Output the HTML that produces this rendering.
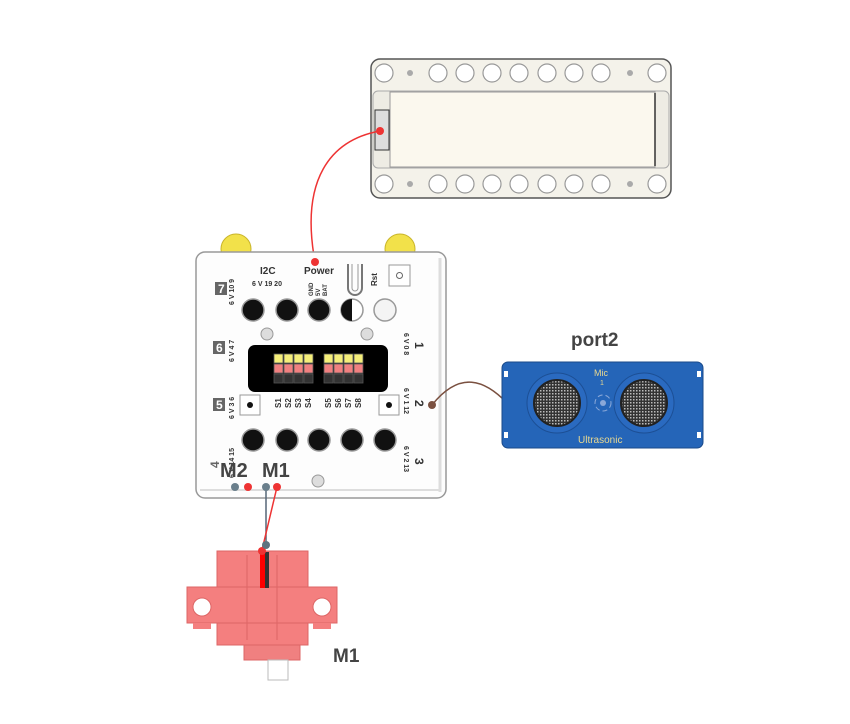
<!DOCTYPE html>
<html><head><meta charset="utf-8"><style>
html,body{margin:0;padding:0;background:#fff;}
svg{display:block;font-family:"Liberation Sans",sans-serif;}
</style></head><body>
<svg width="850" height="724" viewBox="0 0 850 724" xmlns="http://www.w3.org/2000/svg">
<defs>
<pattern id="mesh" width="3" height="3" patternUnits="userSpaceOnUse"><rect width="3" height="3" fill="#333"/><rect width="1.5" height="1.5" fill="#bbb"/></pattern>
</defs>
<!-- top battery module -->
<rect x="371" y="59" width="300" height="139" rx="9" fill="#f4f2ea" stroke="#555" stroke-width="1.5"/>
<rect x="373" y="91" width="296" height="77" rx="5" fill="#eeece4" stroke="#aaa"/>
<rect x="390" y="92" width="265" height="75" fill="#fbf8ee" stroke="#999"/>
<line x1="655" y1="93" x2="655" y2="166" stroke="#333" stroke-width="1.5"/>
<rect x="375" y="110" width="14" height="40" fill="#ddd" stroke="#333"/>
<g fill="#fff" stroke="#999" stroke-width="1.2">
<circle cx="384" cy="73" r="9"/><circle cx="438" cy="73" r="9"/><circle cx="465" cy="73" r="9"/><circle cx="492" cy="73" r="9"/><circle cx="519" cy="73" r="9"/><circle cx="547" cy="73" r="9"/><circle cx="574" cy="73" r="9"/><circle cx="601" cy="73" r="9"/><circle cx="657" cy="73" r="9"/>
<circle cx="384" cy="184" r="9"/><circle cx="438" cy="184" r="9"/><circle cx="465" cy="184" r="9"/><circle cx="492" cy="184" r="9"/><circle cx="519" cy="184" r="9"/><circle cx="547" cy="184" r="9"/><circle cx="574" cy="184" r="9"/><circle cx="601" cy="184" r="9"/><circle cx="657" cy="184" r="9"/>
</g>
<g fill="#aaa"><circle cx="410" cy="73" r="3"/><circle cx="630" cy="73" r="3"/><circle cx="410" cy="184" r="3"/><circle cx="630" cy="184" r="3"/></g>

<!-- red wire top -->
<path d="M380,131 C330,140 300,180 315,262" fill="none" stroke="#e33" stroke-width="1.5"/>
<circle cx="380" cy="131" r="4" fill="#e33"/>

<!-- main board -->
<circle cx="236" cy="249" r="15" fill="#f2e14a" stroke="#c9b52a"/>
<circle cx="400" cy="249" r="15" fill="#f2e14a" stroke="#c9b52a"/>
<rect x="196" y="252" width="250" height="246" rx="9" fill="#fdfdfd" stroke="#999" stroke-width="1.5"/>
<line x1="440" y1="258" x2="440" y2="492" stroke="#ddd" stroke-width="3"/>
<line x1="200" y1="490" x2="440" y2="490" stroke="#ddd" stroke-width="2"/>
<circle cx="315" cy="262" r="4" fill="#e33"/>
<g fill="#333" font-size="10" font-weight="bold">
<text x="260" y="274">I2C</text>
<text x="304" y="274">Power</text>
<text x="252" y="286" font-size="7">6 V 19 20</text>
</g>
<g font-size="6" fill="#333" font-weight="bold">
<text transform="translate(313,296) rotate(-90)">GND</text>
<text transform="translate(320,296) rotate(-90)">5V</text>
<text transform="translate(327,296) rotate(-90)">BAT</text>
<text transform="translate(377,286) rotate(-90)" font-size="8">Rst</text>
</g>
<path d="M348,264 V288 a7,7 0 0 0 14,0 V264" fill="none" stroke="#777" stroke-width="2"/>
<path d="M352,264 V288 a3,3 0 0 0 6,0 V264" fill="none" stroke="#999" stroke-width="1"/>
<rect x="389" y="265" width="21" height="21" fill="#fff" stroke="#999"/>
<circle cx="399.5" cy="275.5" r="3" fill="none" stroke="#666"/>
<!-- number boxes -->
<g font-size="12" font-weight="bold">
<rect x="215" y="282" width="12" height="13" fill="#666"/><text x="218" y="293" fill="#fff">7</text>
<rect x="213" y="341" width="12" height="13" fill="#666"/><text x="216" y="352" fill="#fff">6</text>
<rect x="213" y="398" width="12" height="13" fill="#666"/><text x="216" y="409" fill="#fff">5</text>
<text x="210" y="467" fill="#666" transform="rotate(-90 215 463)">4</text>
<text transform="translate(415,342) rotate(90)" fill="#333">1</text>
<text transform="translate(415,400) rotate(90)" fill="#333">2</text>
<text transform="translate(415,458) rotate(90)" fill="#333">3</text>
</g>
<g font-size="7" fill="#333" font-weight="bold">
<text transform="translate(234,305) rotate(-90)">6 V 10 9</text>
<text transform="translate(234,362) rotate(-90)">6 V 4 7</text>
<text transform="translate(234,419) rotate(-90)">6 V 3 6</text>
<text transform="translate(234,478) rotate(-90)">6 V 14 15</text>
<text transform="translate(404,333) rotate(90)">6 V 0 8</text>
<text transform="translate(404,388) rotate(90)">6 V 1 12</text>
<text transform="translate(404,446) rotate(90)">6 V 2 13</text>
</g>
<!-- holes -->
<g fill="#111" stroke="#999" stroke-width="1.5">
<circle cx="253" cy="310" r="11"/><circle cx="287" cy="310" r="11"/><circle cx="319" cy="310" r="11"/>
<circle cx="253" cy="440" r="11"/><circle cx="287" cy="440" r="11"/><circle cx="319" cy="440" r="11"/><circle cx="352" cy="440" r="11"/><circle cx="385" cy="440" r="11"/>
</g>
<circle cx="352" cy="310" r="11" fill="#fff" stroke="#999" stroke-width="1.5"/>
<path d="M352,299 a11,11 0 0 0 0,22 Z" fill="#111"/>
<circle cx="385" cy="310" r="11" fill="#f4f4f4" stroke="#999" stroke-width="1.5"/>
<!-- screws -->
<g fill="#ddd" stroke="#999"><circle cx="267" cy="334" r="6"/><circle cx="367" cy="334" r="6"/><circle cx="318" cy="481" r="6"/></g>
<!-- connector -->
<rect x="248" y="345" width="140" height="47" rx="7" fill="#000"/>
<g stroke="#555" stroke-width="0.8">
<g fill="#f5ee7a"><rect x="274" y="354" width="9" height="9"/><rect x="284" y="354" width="9" height="9"/><rect x="294" y="354" width="9" height="9"/><rect x="304" y="354" width="9" height="9"/><rect x="324" y="354" width="9" height="9"/><rect x="334" y="354" width="9" height="9"/><rect x="344" y="354" width="9" height="9"/><rect x="354" y="354" width="9" height="9"/></g>
<g fill="#f08080"><rect x="274" y="364" width="9" height="9"/><rect x="284" y="364" width="9" height="9"/><rect x="294" y="364" width="9" height="9"/><rect x="304" y="364" width="9" height="9"/><rect x="324" y="364" width="9" height="9"/><rect x="334" y="364" width="9" height="9"/><rect x="344" y="364" width="9" height="9"/><rect x="354" y="364" width="9" height="9"/></g>
<g fill="#333"><rect x="274" y="374" width="9" height="9"/><rect x="284" y="374" width="9" height="9"/><rect x="294" y="374" width="9" height="9"/><rect x="304" y="374" width="9" height="9"/><rect x="324" y="374" width="9" height="9"/><rect x="334" y="374" width="9" height="9"/><rect x="344" y="374" width="9" height="9"/><rect x="354" y="374" width="9" height="9"/></g>
</g>
<g font-size="8" fill="#333" font-weight="bold">
<text transform="translate(281,408) rotate(-90)">S1</text><text transform="translate(291,408) rotate(-90)">S2</text><text transform="translate(301,408) rotate(-90)">S3</text><text transform="translate(311,408) rotate(-90)">S4</text>
<text transform="translate(331,408) rotate(-90)">S5</text><text transform="translate(341,408) rotate(-90)">S6</text><text transform="translate(351,408) rotate(-90)">S7</text><text transform="translate(361,408) rotate(-90)">S8</text>
</g>
<rect x="240" y="395" width="20" height="20" fill="#fff" stroke="#999"/><circle cx="250" cy="405" r="3" fill="#111"/>
<rect x="379" y="395" width="20" height="20" fill="#fff" stroke="#999"/><circle cx="389" cy="405" r="3" fill="#111"/>
<!-- M labels -->
<text x="220" y="477" font-size="20" font-weight="bold" fill="#444">M2</text>
<text x="262" y="477" font-size="20" font-weight="bold" fill="#444">M1</text>
<!-- wires to servo -->
<path d="M266,487 L266,545" stroke="#567" stroke-width="1.5"/>
<path d="M277,487 L262,550" stroke="#e33" stroke-width="1.5"/>
<circle cx="235" cy="487" r="4" fill="#6a7f8c"/><circle cx="248" cy="487" r="4" fill="#e33"/>
<circle cx="266" cy="487" r="4" fill="#6a7f8c"/><circle cx="277" cy="487" r="4" fill="#e33"/>

<!-- servo -->
<rect x="244" y="645" width="56" height="15" fill="#f08080" stroke="#d66"/>
<rect x="268" y="660" width="20" height="20" fill="#fff" stroke="#bbb"/>
<rect x="217" y="551" width="91" height="94" fill="#f47f7f" stroke="#d66"/>
<rect x="187" y="587" width="150" height="36" fill="#f47f7f" stroke="#d66"/>
<rect x="193" y="623" width="18" height="6" fill="#f47f7f"/><rect x="313" y="623" width="18" height="6" fill="#f47f7f"/>
<g stroke="#d66" fill="none"><line x1="247" y1="555" x2="247" y2="640"/><line x1="277" y1="555" x2="277" y2="640"/></g>
<circle cx="202" cy="607" r="9" fill="#fff" stroke="#d66"/><circle cx="322" cy="607" r="9" fill="#fff" stroke="#d66"/>
<rect x="260" y="552" width="5" height="36" fill="#f00"/><rect x="265" y="552" width="4" height="36" fill="#333"/>
<circle cx="262" cy="551" r="4" fill="#e33"/><circle cx="266" cy="545" r="4" fill="#5d7380"/>
<text x="333" y="662" font-size="19" font-weight="bold" fill="#444">M1</text>

<!-- ultrasonic -->
<path d="M432,405 C460,370 485,380 507,403" fill="none" stroke="#7a5040" stroke-width="1.5"/>
<circle cx="432" cy="405" r="4" fill="#7a5040"/>
<text x="571" y="346" font-size="19" font-weight="bold" fill="#444">port2</text>
<rect x="502" y="362" width="201" height="86" rx="6" fill="#2565b8" stroke="#1a4a8a"/>
<g fill="#fff"><rect x="504" y="371" width="4" height="6"/><rect x="697" y="371" width="4" height="6"/><rect x="504" y="432" width="4" height="6"/><rect x="697" y="432" width="4" height="6"/></g>
<circle cx="557" cy="403" r="30" fill="#2a6ac0" stroke="#1c4f95"/>
<circle cx="644" cy="403" r="30" fill="#2a6ac0" stroke="#1c4f95"/>
<circle cx="557" cy="403" r="23" fill="url(#mesh)" stroke="#222" stroke-width="2"/>
<circle cx="644" cy="403" r="23" fill="url(#mesh)" stroke="#222" stroke-width="2"/>
<circle cx="603" cy="403" r="3" fill="#8aa8d8"/>
<circle cx="603" cy="403" r="8" fill="none" stroke="#8aa8d8" stroke-dasharray="5 3"/>
<text x="594" y="376" font-size="9" fill="#e8d890">Mic</text>
<text x="600" y="385" font-size="7" fill="#e8d890">1</text>
<text x="578" y="443" font-size="10" fill="#e8d890">Ultrasonic</text>
</svg>
</body></html>
